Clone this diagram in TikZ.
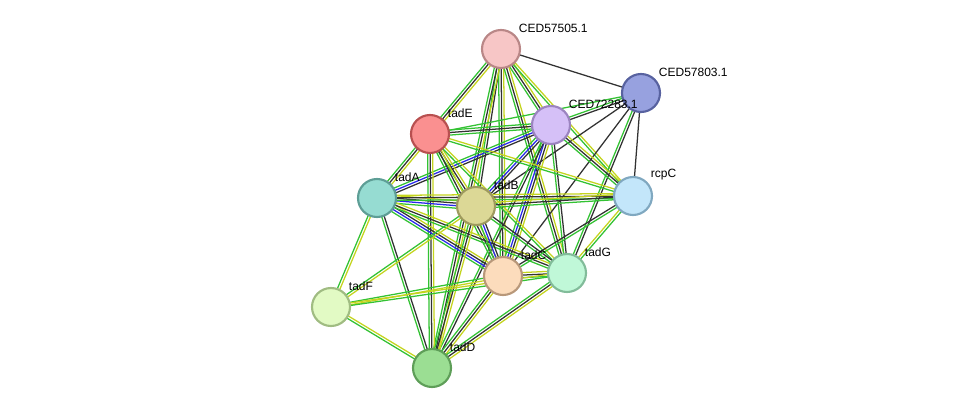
\documentclass[tikz,border=0pt]{standalone}
\usepackage{fontspec}
\setmainfont{Liberation Sans}
\usetikzlibrary{calc, backgrounds}
\definecolor{lnkgreen}{RGB}{51,194,51}
\definecolor{lnkyellow}{RGB}{196,212,30}
\definecolor{lnkblack}{RGB}{50,50,50}
\definecolor{lnkblue}{RGB}{40,40,235}

%% one bundle of parallel strands between two proteins
\newcommand{\tie}[3]{%
  \foreach \col [count=\i] in {#3} {\xdef\nstrand{\i}}
  \foreach \col [count=\i] in {#3} {
    \pgfmathsetmacro\off{(\i-(\nstrand+1)/2)*1.9}
    \draw[strand, \col] ($(#1.center)!\off pt!90:(#2.center)$) --
                        ($(#2.center)!\off pt!-90:(#1.center)$);
  }%
}

\begin{document}
\begin{tikzpicture}[
  x=0.75pt, y=-0.75pt,
  prot/.style={circle, line width=1.6pt, minimum size=28.5pt, inner sep=0pt},
  tag/.style={anchor=west, font=\fontsize{9}{10}\selectfont, inner sep=0.5pt},
  strand/.style={line width=0.95pt},
  gr/.style={lnkgreen}, yl/.style={lnkyellow}, bk/.style={lnkblack}, bl/.style={lnkblue},
]
\useasboundingbox (0,0) rectangle (976,414);

%% Proteins
\node[prot, fill={rgb,255:red,247;green,198;blue,198}, draw={rgb,255:red,185;green,135;blue,135}] (c505) at (501,49) {};
\node[prot, fill={rgb,255:red,151;green,161;blue,223}, draw={rgb,255:red,88;green,98;blue,160}]   (c803) at (641,93) {};
\node[prot, fill={rgb,255:red,213;green,192;blue,247}, draw={rgb,255:red,156;green,132;blue,192}] (c283) at (551,125) {};
\node[prot, fill={rgb,255:red,250;green,144;blue,144}, draw={rgb,255:red,184;green,80;blue,80}]   (tadE) at (430,134) {};
\node[prot, fill={rgb,255:red,150;green,220;blue,210}, draw={rgb,255:red,94;green,158;blue,150}]  (tadA) at (377,198) {};
\node[prot, fill={rgb,255:red,220;green,216;blue,150}, draw={rgb,255:red,158;green,154;blue,94}]  (tadB) at (476,206) {};
\node[prot, fill={rgb,255:red,195;green,230;blue,250}, draw={rgb,255:red,128;green,168;blue,192}] (rcpC) at (633,196) {};
\node[prot, fill={rgb,255:red,252;green,220;blue,188}, draw={rgb,255:red,184;green,152;blue,122}] (tadC) at (503,276) {};
\node[prot, fill={rgb,255:red,192;green,248;blue,216}, draw={rgb,255:red,130;green,188;blue,154}] (tadG) at (567,273) {};
\node[prot, fill={rgb,255:red,226;green,250;blue,196}, draw={rgb,255:red,160;green,188;blue,130}] (tadF) at (331,307) {};
\node[prot, fill={rgb,255:red,155;green,222;blue,147}, draw={rgb,255:red,94;green,158;blue,88}]   (tadD) at (432,368) {};

%% Labels
\node[tag] at ($(c505)+(17,-21)$) {CED57505.1};
\node[tag] at ($(c803)+(17,-21)$) {CED57803.1};
\node[tag] at ($(c283)+(17,-21)$) {CED72283.1};
\node[tag] at ($(tadE)+(17,-21)$) {tadE};
\node[tag] at ($(tadA)+(17,-21)$) {tadA};
\node[tag] at ($(tadB)+(17,-21)$) {tadB};
\node[tag] at ($(rcpC)+(17,-21)$) {rcpC};
\node[tag] at ($(tadC)+(17,-21)$) {tadC};
\node[tag] at ($(tadG)+(17,-21)$) {tadG};
\node[tag] at ($(tadF)+(17,-21)$) {tadF};
\node[tag] at ($(tadD)+(17,-21)$) {tadD};

%% Links
\begin{scope}[on background layer]
\tie{c505}{c803}{bk}
\tie{c505}{tadE}{gr,bk,yl}
\tie{c505}{c283}{gr,bk,yl}
\tie{c505}{tadB}{gr,bk}
\tie{c505}{tadC}{gr,bk,yl}
\tie{c505}{tadD}{gr,bk,yl}
\tie{c505}{tadG}{gr,bk,yl}
\tie{c505}{rcpC}{gr,yl}
\tie{c803}{c283}{gr,bk}
\tie{c803}{tadE}{gr}
\tie{c803}{tadB}{bk}
\tie{c803}{tadC}{bk}
\tie{c803}{tadG}{gr,bk}
\tie{c803}{rcpC}{bk}
\tie{c283}{tadE}{gr,bk,gr}
\tie{c283}{tadA}{gr,bl,bk}
\tie{c283}{tadB}{gr,bl,bk}
\tie{c283}{tadC}{gr,bl,bk,yl}
\tie{c283}{tadD}{gr,bk}
\tie{c283}{tadG}{gr,bk}
\tie{c283}{rcpC}{gr,bk,yl}
\tie{tadE}{tadA}{gr,bk,yl}
\tie{tadE}{tadB}{gr,bk,yl}
\tie{tadE}{tadC}{gr,bk,yl}
\tie{tadE}{tadD}{gr,bk,yl}
\tie{tadE}{tadG}{gr,yl}
\tie{tadE}{rcpC}{gr,yl}
\tie{tadA}{tadB}{gr,bl,bk,yl}
\tie{tadA}{tadC}{gr,bl,bk,yl}
\tie{tadA}{tadD}{gr,bk}
\tie{tadA}{tadF}{gr,yl}
\tie{tadA}{tadG}{gr,bk,yl}
\tie{tadA}{rcpC}{gr,bk,yl}
\tie{tadB}{tadC}{gr,bl,bk}
\tie{tadB}{tadD}{gr,bk,yl}
\tie{tadB}{tadF}{gr,yl}
\tie{tadB}{tadG}{gr,bk}
\tie{tadB}{rcpC}{gr,bk,yl}
\tie{tadC}{tadD}{gr,bk,yl}
\tie{tadC}{tadF}{gr,yl}
\tie{tadC}{tadG}{gr,bk,yl}
\tie{tadC}{rcpC}{gr,bk}
\tie{tadG}{tadD}{gr,bk,yl}
\tie{tadG}{rcpC}{gr,yl}
\tie{tadF}{tadD}{gr,yl}
\tie{tadF}{tadG}{gr,yl}
\end{scope}

\end{tikzpicture}
\end{document}
